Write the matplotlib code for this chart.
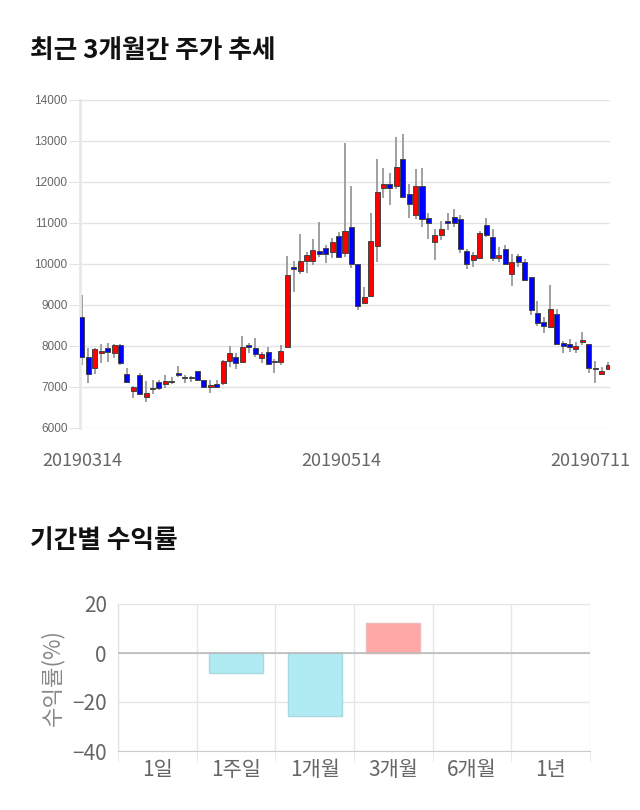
import matplotlib
matplotlib.use('Agg')
import matplotlib.pyplot as plt
import matplotlib.transforms as mtransforms

plt.rcParams['font.family'] = ['Noto Sans CJK KR', 'DejaVu Sans']

# daily prices, 2019-03-14 .. 2019-07-11
opens = [8700, 7730, 7460, 7830, 7950, 7830, 8020, 7320, 6900, 7290,
         6760, 6950, 7120, 7070, 7120, 7340, 7240, 7240, 7390, 7170,
         7000, 7070, 7100, 7640, 7730, 7610, 8020, 7950, 7710, 7850,
         7600, 7610, 7980, 9930, 9830, 10070, 10070, 10320, 10390, 10290,
         10680, 10270, 10900, 10000, 9050, 9220, 10440, 11850, 11950, 11900,
         12560, 11710, 11200, 11900, 11120, 10540, 10710, 11050, 11150, 11100,
         10320, 10100, 10150, 10950, 10660, 10150, 10370, 9760, 10200, 10050,
         9680, 8800, 8590, 8460, 8780, 8070, 8050, 7930, 8100, 8050,
         7440, 7320, 7440]
highs = [9240, 7950, 7950, 8050, 8070, 8050, 8040, 7470, 7020, 7340,
         7150, 7170, 7170, 7290, 7240, 7510, 7290, 7280, 7400, 7180,
         7170, 7170, 7660, 8000, 7830, 8240, 8070, 8200, 7850, 7980,
         7680, 8020, 10190, 10070, 10730, 10290, 10610, 11020, 10460, 10630,
         10780, 12950, 11900, 10010, 9440, 11240, 12560, 12340, 12220, 13100,
         13170, 11950, 12320, 12340, 11240, 10850, 11050, 11240, 11340, 11200,
         10370, 10290, 10800, 11120, 10850, 10420, 10460, 10240, 10240, 10120,
         9690, 9100, 8710, 9490, 8900, 8120, 8170, 8100, 8340, 8060,
         7630, 7490, 7610]
lows = [7540, 7100, 7320, 7590, 7610, 7700, 7540, 7100, 6730, 6800,
        6640, 6830, 6930, 6980, 7070, 7240, 7100, 7110, 7150, 6990,
        6850, 6980, 7050, 7490, 7440, 7590, 7830, 7730, 7590, 7540,
        7340, 7540, 7950, 9320, 9760, 9780, 9980, 10170, 10020, 10150,
        10150, 10170, 9900, 8880, 9030, 9200, 10050, 11610, 11440, 11830,
        11610, 11120, 11100, 10900, 10610, 10100, 10590, 10830, 10900, 10270,
        9880, 9930, 10120, 10660, 10070, 10050, 9980, 9460, 9930, 9590,
        8760, 8490, 8320, 8440, 8030, 7830, 7850, 7830, 8020, 7340,
        7100, 7300, 7420]
closes = [7730, 7320, 7930, 7880, 7860, 8020, 7590, 7120, 7000, 6830,
          6850, 6950, 6980, 7150, 7140, 7300, 7210, 7220, 7160, 7000,
          7050, 7010, 7640, 7830, 7590, 7980, 7980, 7810, 7800, 7560,
          7620, 7880, 9730, 9880, 10070, 10220, 10340, 10250, 10250, 10540,
          10170, 10800, 10000, 8980, 9200, 10560, 11760, 11950, 11860, 12370,
          11640, 11460, 11900, 11100, 11000, 10710, 10850, 11000, 11000, 10370,
          10000, 10220, 10760, 10710, 10150, 10220, 10000, 10050, 10050, 9610,
          8880, 8560, 8490, 8900, 8050, 8000, 7980, 8000, 8150, 7460,
          7440, 7390, 7540]
date_ticks = [0, 41, 82]
date_labels = ['20190314', '20190514', '20190711']

periods = ['1일', '1주일', '1개월', '3개월', '6개월', '1년']
returns = [0, -8.3, -25.8, 12.4, 0, 0]

fig = plt.figure(figsize=(6.4, 8.1), dpi=100)

fig.text(30/640, 1 - 50/810, '최근 3개월간 주가 추세', fontsize=18.5, fontweight='bold',
         va='center', ha='left', color='#111111')
fig.text(30/640, 1 - 541/810, '기간별 수익률', fontsize=18.5, fontweight='bold',
         va='center', ha='left', color='#111111')

# candlestick chart
ax = fig.add_axes([80/640, 1 - 428/810, 530/640, 328/810])
x = list(range(len(opens)))
ax.vlines(x, lows, highs, color='#999999', lw=1.3, zorder=2)
colors, bottoms, heights = [], [], []
for o, c in zip(opens, closes):
    if c > o:
        colors.append('#ff0000')
    elif c < o:
        colors.append('#0000ff')
    else:
        colors.append('#555555')
    bottoms.append(min(o, c))
    heights.append(max(abs(c - o), 25))
ax.bar(x, heights, bottom=bottoms, width=0.78, color=colors,
       edgecolor='#444444', linewidth=0.7, zorder=3)

ax.set_xlim(-0.3, 82.3)
ax.set_ylim(6000, 14000)
ax.set_yticks(range(6000, 14001, 1000))
ax.grid(axis='y', color='#e3e3e3', lw=1)
ax.set_axisbelow(True)
for s in ['top', 'right', 'bottom']:
    ax.spines[s].set_visible(False)
ax.spines['left'].set_color('#e8e8e8')
ax.spines['left'].set_linewidth(2)
ax.tick_params(axis='y', length=8, color='#e3e3e3', pad=1, labelsize=8.5,
               labelcolor='#666666')
for lab in ax.get_yticklabels():
    lab.set_family(['Liberation Sans', 'DejaVu Sans'])
ax.set_xticks(date_ticks)
ax.set_xticklabels(date_labels, fontsize=13, color='#666666')
ax.tick_params(axis='x', length=0, pad=17)
labs = ax.get_xticklabels()
labs[1].set_transform(labs[1].get_transform() +
                      mtransforms.ScaledTranslation(-0.04, 0, fig.dpi_scale_trans))
labs[-1].set_transform(labs[-1].get_transform() +
                       mtransforms.ScaledTranslation(-0.18, 0, fig.dpi_scale_trans))

# returns bar chart
bx = fig.add_axes([118/640, 1 - 751/810, 472/640, 147/810])
bar_colors = ['#ffa8a8' if v > 0 else '#b0ebf3' for v in returns]
edge_colors = ['#f0b8b8' if v > 0 else ('#a8d8e0' if v < 0 else 'none')
               for v in returns]
bx.bar(range(len(periods)), returns, width=0.69, color=bar_colors,
       edgecolor=edge_colors, linewidth=1, zorder=3)
bx.axhline(0, color='#bbbbbb', lw=1.2, zorder=4)
bx.set_xlim(-0.5, len(periods) - 0.5)
bx.set_ylim(-40, 20)
bx.set_yticks([-40, -20, 0, 20])
bx.set_xticks(range(len(periods)))
bx.set_xticklabels(periods)
bx.set_xticks([i + 0.5 for i in range(-1, len(periods))], minor=True)
bx.grid(axis='y', color='#e6e6e6', lw=1)
bx.grid(axis='x', which='minor', color='#e6e6e6', lw=1)
bx.set_axisbelow(True)
for s in ['top', 'right']:
    bx.spines[s].set_visible(False)
bx.spines['left'].set_color('#e0e0e0')
bx.spines['bottom'].set_color('#cccccc')
bx.tick_params(axis='x', which='major', length=0, pad=6, labelsize=15,
               labelcolor='#666666')
bx.tick_params(axis='x', which='minor', length=8, color='#e6e6e6')
bx.tick_params(axis='y', length=0, pad=8, labelsize=15, labelcolor='#666666')
bx.set_ylabel('수익률(%)', fontsize=16, color='#888888', labelpad=6)

fig.savefig('out.png', dpi=100)
